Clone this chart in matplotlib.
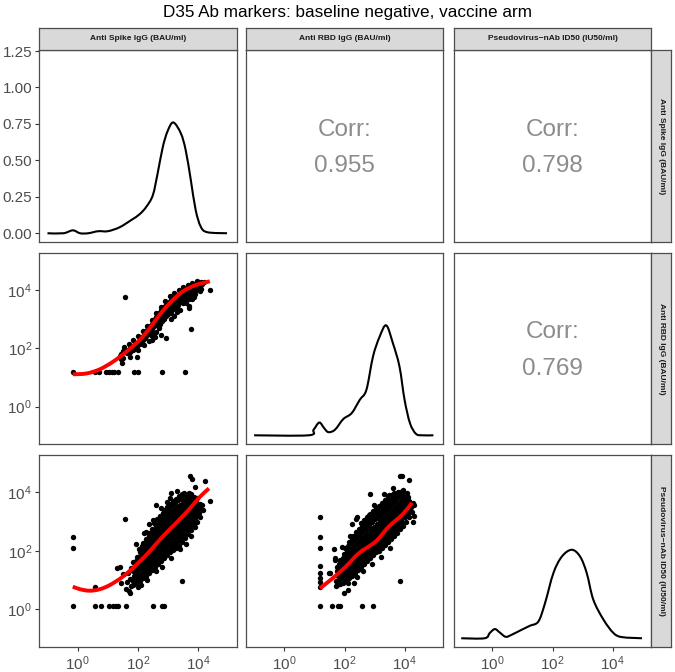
import matplotlib
matplotlib.use("Agg")
import matplotlib.pyplot as plt
from matplotlib.path import Path
from matplotlib.patches import PathPatch

plt.rcParams['font.family'] = ['Liberation Sans', 'DejaVu Sans']
plt.rcParams['mathtext.fontset'] = 'custom'
plt.rcParams['mathtext.rm'] = 'Liberation Sans'

title = "D35 Ab markers: baseline negative, vaccine arm"
markers = ["Anti Spike IgG (BAU/ml)", "Anti RBD IgG (BAU/ml)", "Pseudovirus\u2212nAb ID50 (IU50/ml)"]
# upper triangle correlations: (1,2), (1,3), (2,3)
corr_labels = {(0, 1): "0.955", (0, 2): "0.798", (1, 2): "0.769"}

# all values below are log10 of the assay readout
# --- diagonal densities ---
dens_spike_x = [-1.0, -0.47, -0.16, 0.08, 0.35, 0.68, 1.0, 1.39, 1.78, 2.05, 2.27, 2.49, 2.65,
                2.82, 2.98, 3.17, 3.42, 3.58, 3.75, 3.91, 4.08, 4.30, 4.95]
dens_spike_y = [0.0, 0.0, 0.02, 0.0, 0.0, 0.014, 0.014, 0.041, 0.091, 0.13, 0.18, 0.26, 0.41,
                0.59, 0.70, 0.76, 0.685, 0.57, 0.365, 0.16, 0.045, 0.007, 0.0]

dens_rbd_x = [-1.01, 0.80, 0.97, 1.16, 1.32, 1.46, 1.68, 1.96, 2.24, 2.51, 2.73, 2.95, 3.17,
              3.39, 3.61, 3.83, 4.0, 4.18, 4.38, 4.6, 4.96]
dens_rbd_y = [0.0, 0.0, 0.038, 0.088, 0.05, 0.022, 0.038, 0.112, 0.153, 0.245, 0.314, 0.544, 0.68,
              0.758, 0.636, 0.475, 0.245, 0.084, 0.01, 0.0, 0.0]

dens_nab_x = [-1.04, -0.26, -0.09, 0.08, 0.24, 0.44, 0.64, 0.97, 1.25, 1.53, 1.75, 2.03, 2.31,
              2.64, 2.92, 3.14, 3.36, 3.70, 4.03, 4.31, 4.98]
dens_nab_y = [0.0, 0.0, 0.036, 0.063, 0.04, 0.01, 0.024, 0.058, 0.086, 0.115, 0.24, 0.447, 0.56,
              0.607, 0.56, 0.447, 0.264, 0.127, 0.036, 0.008, 0.0]

# --- smooth (loess) curves ---
fit21_x = [-0.16, 0.30, 0.73, 1.17, 1.61, 2.05, 2.38, 2.71, 3.04, 3.47, 3.91, 4.38]
fit21_y = [1.11, 1.14, 1.28, 1.54, 1.88, 2.28, 2.68, 3.14, 3.54, 3.94, 4.17, 4.30]
fit31_x = [-0.16, 0.08, 0.40, 0.73, 1.06, 1.50, 1.94, 2.38, 2.82, 3.26, 3.69, 4.02, 4.35]
fit31_y = [0.78, 0.69, 0.64, 0.69, 0.83, 1.12, 1.52, 1.98, 2.49, 2.95, 3.41, 3.81, 4.13]
fit32_x = [1.18, 1.60, 2.04, 2.48, 3.04, 3.48, 3.92, 4.25]
fit32_y = [0.72, 1.06, 1.46, 1.92, 2.32, 2.83, 3.23, 3.64]

# --- scatter: Spike (x) vs RBD (y) ---
s21_x = [-0.16, 0.57, 0.70, 0.93, 1.03, 1.13, 1.22, 1.34, 1.88, 1.99, 2.79, 3.56,
         1.48, 1.50, 1.72, 1.96, 1.56, 3.75, 4.38, 1.40, 1.44,
         1.45, 1.50, 1.55, 1.60, 1.62, 1.68, 1.72, 1.75, 1.80, 1.83, 1.88, 1.90, 1.95, 1.98,
         2.02, 2.05, 2.08, 2.10, 2.14, 2.16, 2.20, 2.22, 2.25, 2.28, 2.30, 2.33, 2.36, 2.38,
         2.40, 2.42, 2.45, 2.47, 2.50, 2.52, 2.55, 2.57, 2.58, 2.60, 2.62, 2.65, 2.67, 2.68,
         2.70, 2.72, 2.74, 2.76, 2.78, 2.80, 2.82, 2.84, 2.86, 2.88, 2.90, 2.92, 2.95, 2.97,
         3.00, 3.02, 3.04, 3.06, 3.10, 3.12, 3.15, 3.18, 3.20, 3.23, 3.26, 3.28, 3.32, 3.35,
         3.38, 3.40, 3.44, 3.46, 3.50, 3.52, 3.55, 3.58, 3.62, 3.65, 3.68, 3.70, 3.72, 3.75,
         3.78, 3.82, 3.85, 3.88, 3.90, 3.93, 3.96, 4.00, 4.03, 4.06, 4.10, 4.13, 4.18,
         2.55, 2.76, 2.93, 3.10, 3.30, 3.58, 3.69, 3.80, 4.05, 3.20, 2.45, 2.20, 2.00, 2.35,
         1.55, 1.70, 1.85, 2.00, 2.15, 2.30, 2.45, 2.60, 2.75, 2.90, 3.05, 3.20, 3.35, 3.50,
         3.65, 3.80, 3.95, 3.10, 3.30, 3.50, 3.70, 3.90, 4.10, 2.70, 2.50, 3.40, 3.85]
s21_y = [1.18, 1.18, 1.18, 1.18, 1.18, 1.18, 1.18, 1.18, 1.18, 1.18, 1.18, 1.18,
         1.49, 1.66, 1.69, 1.69, 3.77, 2.65, 4.00, 1.75, 1.62,
         1.82, 1.90, 1.86, 1.95, 1.84, 1.92, 2.00, 1.88, 2.05, 1.96, 2.10, 2.00, 2.18, 2.08,
         2.25, 2.15, 2.32, 2.20, 2.40, 2.28, 2.48, 2.36, 2.55, 2.42, 2.62, 2.50, 2.70, 2.58,
         2.78, 2.45, 2.85, 2.65, 2.92, 2.75, 3.00, 2.82, 2.55, 3.08, 2.90, 3.15, 2.98, 2.70,
         3.22, 3.05, 2.85, 3.30, 3.12, 2.95, 3.38, 3.20, 3.02, 3.45, 3.28, 3.10, 3.52, 3.35,
         3.18, 3.58, 3.42, 3.25, 3.65, 3.50, 3.35, 3.72, 3.58, 3.42, 3.78, 3.65, 3.50, 3.85,
         3.72, 3.58, 3.90, 3.78, 3.65, 3.96, 3.85, 3.72, 4.02, 3.92, 3.80, 3.45, 4.08, 3.98,
         3.88, 4.14, 4.05, 3.95, 4.22, 4.12, 4.02, 4.26, 4.18, 4.10, 4.28, 4.22, 4.27,
         2.40, 2.46, 2.34, 3.00, 3.25, 3.54, 3.40, 3.70, 3.95, 3.10, 2.30, 2.10, 1.95, 2.25,
         2.05, 2.15, 2.28, 2.42, 2.58, 2.76, 2.98, 3.20, 3.42, 3.62, 3.78, 3.90, 4.00, 4.10,
         4.18, 4.24, 4.30, 3.20, 3.40, 3.55, 3.70, 3.85, 4.05, 2.75, 2.52, 3.30, 3.75]

# --- scatter: Spike (x) vs nAb (y) ---
s31_x = [-0.16, 0.57, 0.76, 1.04, 1.17, 1.26, 1.35, 1.61, 2.49, 2.78, 2.85,
         -0.16, -0.16, 0.59, 1.56, 1.72, 3.45, 3.72, 3.80, 4.21, 4.37, 3.89, 3.09,
         2.38, 2.60, 1.95, 2.20, 2.50, 3.30, 3.75, 3.90, 1.30, 1.40, 1.50, 1.45, 1.60,
         2.00, 2.10, 2.30, 2.60, 2.80, 3.10, 3.40, 3.60, 2.25, 2.75, 2.95, 3.05,
         1.62, 1.68, 1.70, 1.74, 1.78, 1.76,
         1.85, 1.83, 1.87, 1.84, 1.86, 1.82,
         1.95, 1.93, 1.97, 1.94, 1.96, 1.92, 1.96,
         2.05, 2.03, 2.07, 2.04, 2.06, 2.02, 2.06, 2.07, 2.03,
         2.15, 2.13, 2.17, 2.14, 2.16, 2.12, 2.16, 2.17, 2.13, 2.15,
         2.25, 2.23, 2.27, 2.24, 2.26, 2.22, 2.26, 2.27, 2.23, 2.25,
         2.35, 2.33, 2.37, 2.34, 2.36, 2.32, 2.36, 2.37, 2.33, 2.35, 2.38,
         2.45, 2.43, 2.47, 2.44, 2.46, 2.42, 2.46, 2.47, 2.43, 2.45, 2.48,
         2.55, 2.53, 2.57, 2.54, 2.56, 2.52, 2.56, 2.57, 2.53, 2.55, 2.58, 2.54,
         2.65, 2.63, 2.67, 2.64, 2.66, 2.62, 2.66, 2.67, 2.63, 2.65, 2.68, 2.64,
         2.75, 2.73, 2.77, 2.74, 2.76, 2.72, 2.76, 2.77, 2.73, 2.75, 2.78, 2.74,
         2.85, 2.83, 2.87, 2.84, 2.86, 2.82, 2.86, 2.87, 2.83, 2.85, 2.88, 2.84, 2.87,
         2.95, 2.93, 2.97, 2.94, 2.96, 2.92, 2.96, 2.97, 2.93, 2.95, 2.98, 2.94, 2.97,
         3.05, 3.03, 3.07, 3.04, 3.06, 3.02, 3.06, 3.07, 3.03, 3.05, 3.08, 3.04, 3.07,
         3.15, 3.13, 3.17, 3.14, 3.16, 3.12, 3.16, 3.17, 3.13, 3.15, 3.18, 3.14, 3.17,
         3.25, 3.23, 3.27, 3.24, 3.26, 3.22, 3.26, 3.27, 3.23, 3.25, 3.28, 3.24, 3.27,
         3.35, 3.33, 3.37, 3.34, 3.36, 3.32, 3.36, 3.37, 3.33, 3.35, 3.38, 3.34, 3.37,
         3.45, 3.43, 3.47, 3.44, 3.46, 3.42, 3.46, 3.47, 3.43, 3.45, 3.48, 3.44, 3.47,
         3.55, 3.53, 3.57, 3.54, 3.56, 3.52, 3.56, 3.57, 3.53, 3.55, 3.58, 3.54,
         3.65, 3.63, 3.67, 3.64, 3.66, 3.62, 3.66, 3.67, 3.63, 3.65, 3.68,
         3.75, 3.73, 3.77, 3.74, 3.76, 3.72, 3.76, 3.77, 3.73, 3.75,
         3.85, 3.83, 3.87, 3.84, 3.86, 3.82, 3.86, 3.87,
         3.95, 3.93, 3.97, 3.94, 3.96, 3.92, 3.96,
         4.05, 4.03, 4.07, 4.04,
         4.15, 4.13]
s31_y = [0.12, 0.12, 0.12, 0.12, 0.12, 0.12, 0.12, 0.12, 0.12, 0.12, 0.12,
         2.47, 2.09, 0.78, 3.09, 0.55, 0.97, 4.55, 4.45, 4.40, 3.69, 4.18, 3.98,
         2.93, 3.55, 2.24, 2.60, 3.05, 4.05, 2.50, 2.80, 1.40, 1.45, 1.20, 0.90, 0.70,
         0.75, 0.85, 1.00, 1.30, 1.45, 1.75, 2.05, 2.25, 2.65, 3.45, 3.65, 3.80,
         0.95, 1.25, 0.62, 1.05, 0.80, 1.40,
         0.82, 0.98, 1.14, 1.30, 1.46, 1.62,
         0.90, 1.05, 1.20, 1.35, 1.50, 1.65, 1.80,
         0.98, 1.12, 1.26, 1.40, 1.54, 1.68, 1.82, 1.96, 2.08,
         1.06, 1.20, 1.34, 1.48, 1.62, 1.76, 1.90, 2.04, 2.18, 2.28,
         1.15, 1.29, 1.43, 1.57, 1.71, 1.85, 1.99, 2.13, 2.27, 2.41,
         1.24, 1.38, 1.52, 1.66, 1.80, 1.94, 2.08, 2.22, 2.36, 2.50, 2.60,
         1.35, 1.49, 1.63, 1.77, 1.91, 2.05, 2.19, 2.33, 2.47, 2.61, 2.76,
         1.45, 1.59, 1.73, 1.87, 2.01, 2.15, 2.29, 2.43, 2.57, 2.71, 2.85, 2.95,
         1.55, 1.69, 1.83, 1.97, 2.11, 2.25, 2.39, 2.53, 2.67, 2.81, 2.95, 3.08,
         1.65, 1.79, 1.93, 2.07, 2.21, 2.35, 2.49, 2.63, 2.77, 2.91, 3.05, 3.20,
         1.75, 1.89, 2.03, 2.17, 2.31, 2.45, 2.59, 2.73, 2.87, 3.01, 3.15, 3.29, 3.38,
         1.85, 1.99, 2.13, 2.27, 2.41, 2.55, 2.69, 2.83, 2.97, 3.11, 3.25, 3.39, 3.50,
         1.95, 2.09, 2.23, 2.37, 2.51, 2.65, 2.79, 2.93, 3.07, 3.21, 3.35, 3.49, 3.60,
         2.02, 2.16, 2.30, 2.44, 2.58, 2.72, 2.86, 3.00, 3.14, 3.28, 3.42, 3.56, 3.70,
         2.10, 2.24, 2.38, 2.52, 2.66, 2.80, 2.94, 3.08, 3.22, 3.36, 3.50, 3.64, 3.78,
         2.18, 2.32, 2.46, 2.60, 2.74, 2.88, 3.02, 3.16, 3.30, 3.44, 3.58, 3.72, 3.86,
         2.30, 2.44, 2.58, 2.72, 2.86, 3.00, 3.14, 3.28, 3.42, 3.56, 3.70, 3.84, 3.93,
         2.45, 2.59, 2.73, 2.87, 3.01, 3.15, 3.29, 3.43, 3.57, 3.71, 3.85, 3.98,
         2.58, 2.72, 2.86, 3.00, 3.14, 3.28, 3.42, 3.56, 3.70, 3.84, 3.97,
         2.72, 2.86, 3.00, 3.14, 3.28, 3.42, 3.56, 3.70, 3.84, 3.95,
         2.88, 3.02, 3.16, 3.30, 3.44, 3.58, 3.72, 3.85,
         3.00, 3.14, 3.28, 3.42, 3.56, 3.70, 3.80,
         3.15, 3.30, 3.45, 3.60,
         3.38, 3.55]

# --- scatter: RBD (x) vs nAb (y) ---
s32_x = [1.18, 1.18, 1.18, 1.18, 1.18, 1.18, 1.18, 1.18, 1.18, 1.60, 1.78, 1.85, 2.57, 2.95,
         1.66, 1.51, 1.68, 1.93, 2.26, 2.43, 2.85, 2.98, 2.82, 3.48, 3.84, 3.86, 3.92, 4.16,
         2.13, 1.99, 2.32, 1.71, 1.49, 1.69, 2.37, 2.17, 3.60, 3.30, 4.30, 4.32, 4.28,
         2.60, 2.90, 3.20, 3.50, 2.40, 2.10,
         1.75, 1.73, 1.77, 1.74, 1.76,
         1.85, 1.83, 1.87, 1.84, 1.86, 1.82, 1.86,
         1.95, 1.93, 1.97, 1.94, 1.96, 1.92, 1.96, 1.97,
         2.05, 2.03, 2.07, 2.04, 2.06, 2.02, 2.06, 2.07, 2.03,
         2.15, 2.13, 2.17, 2.14, 2.16, 2.12, 2.16, 2.17, 2.13, 2.15,
         2.25, 2.23, 2.27, 2.24, 2.26, 2.22, 2.26, 2.27, 2.23, 2.25, 2.28,
         2.35, 2.33, 2.37, 2.34, 2.36, 2.32, 2.36, 2.37, 2.33, 2.35, 2.38,
         2.45, 2.43, 2.47, 2.44, 2.46, 2.42, 2.46, 2.47, 2.43, 2.45, 2.48,
         2.55, 2.53, 2.57, 2.54, 2.56, 2.52, 2.56, 2.57, 2.53, 2.55, 2.58, 2.54,
         2.65, 2.63, 2.67, 2.64, 2.66, 2.62, 2.66, 2.67, 2.63, 2.65, 2.68, 2.64,
         2.75, 2.73, 2.77, 2.74, 2.76, 2.72, 2.76, 2.77, 2.73, 2.75, 2.78, 2.74,
         2.85, 2.83, 2.87, 2.84, 2.86, 2.82, 2.86, 2.87, 2.83, 2.85, 2.88, 2.84,
         2.95, 2.93, 2.97, 2.94, 2.96, 2.92, 2.96, 2.97, 2.93, 2.95, 2.98, 2.94,
         3.05, 3.03, 3.07, 3.04, 3.06, 3.02, 3.06, 3.07, 3.03, 3.05, 3.08, 3.04,
         3.15, 3.13, 3.17, 3.14, 3.16, 3.12, 3.16, 3.17, 3.13, 3.15, 3.18, 3.14,
         3.25, 3.23, 3.27, 3.24, 3.26, 3.22, 3.26, 3.27, 3.23, 3.25, 3.28, 3.24,
         3.35, 3.33, 3.37, 3.34, 3.36, 3.32, 3.36, 3.37, 3.33, 3.35, 3.38, 3.34,
         3.45, 3.43, 3.47, 3.44, 3.46, 3.42, 3.46, 3.47, 3.43, 3.45, 3.48, 3.44,
         3.55, 3.53, 3.57, 3.54, 3.56, 3.52, 3.56, 3.57, 3.53, 3.55, 3.58, 3.54,
         3.65, 3.63, 3.67, 3.64, 3.66, 3.62, 3.66, 3.67, 3.63, 3.65, 3.68, 3.64,
         3.75, 3.73, 3.77, 3.74, 3.76, 3.72, 3.76, 3.77, 3.73, 3.75, 3.78,
         3.85, 3.83, 3.87, 3.84, 3.86, 3.82, 3.86, 3.87, 3.83, 3.85,
         3.95, 3.93, 3.97, 3.94, 3.96, 3.92, 3.96, 3.97, 3.93, 3.95,
         4.05, 4.03, 4.07, 4.04, 4.06, 4.02, 4.06, 4.07,
         4.15, 4.13, 4.17, 4.14, 4.16, 4.12,
         4.25, 4.23, 4.27]
s32_y = [3.16, 2.46, 2.09, 1.50, 1.23, 1.06, 0.95, 0.78, 0.12, 0.12, 0.12, 0.12, 0.12, 0.12,
         2.06, 1.23, 1.69, 2.13, 2.93, 3.15, 3.94, 3.58, 3.23, 3.90, 0.97, 4.55, 4.55, 4.41,
         0.68, 0.55, 0.89, 0.81, 1.26, 1.75, 3.09, 2.49, 4.15, 3.95, 3.55, 3.20, 3.00,
         1.30, 1.55, 1.80, 2.10, 1.10, 0.90,
         0.82, 0.98, 1.14, 1.30, 1.46,
         0.86, 1.00, 1.14, 1.28, 1.42, 1.56, 1.70,
         0.92, 1.06, 1.20, 1.34, 1.48, 1.62, 1.76, 1.90,
         1.00, 1.14, 1.28, 1.42, 1.56, 1.70, 1.84, 1.98, 2.10,
         1.06, 1.20, 1.34, 1.48, 1.62, 1.76, 1.90, 2.04, 2.18, 2.30,
         1.15, 1.29, 1.43, 1.57, 1.71, 1.85, 1.99, 2.13, 2.27, 2.41, 2.50,
         1.25, 1.39, 1.53, 1.67, 1.81, 1.95, 2.09, 2.23, 2.37, 2.51, 2.65,
         1.35, 1.49, 1.63, 1.77, 1.91, 2.05, 2.19, 2.33, 2.47, 2.61, 2.75,
         1.45, 1.59, 1.73, 1.87, 2.01, 2.15, 2.29, 2.43, 2.57, 2.71, 2.85, 2.95,
         1.55, 1.69, 1.83, 1.97, 2.11, 2.25, 2.39, 2.53, 2.67, 2.81, 2.95, 3.05,
         1.65, 1.79, 1.93, 2.07, 2.21, 2.35, 2.49, 2.63, 2.77, 2.91, 3.05, 3.15,
         1.75, 1.89, 2.03, 2.17, 2.31, 2.45, 2.59, 2.73, 2.87, 3.01, 3.15, 3.25,
         1.85, 1.99, 2.13, 2.27, 2.41, 2.55, 2.69, 2.83, 2.97, 3.11, 3.25, 3.35,
         1.95, 2.09, 2.23, 2.37, 2.51, 2.65, 2.79, 2.93, 3.07, 3.21, 3.35, 3.45,
         2.00, 2.14, 2.28, 2.42, 2.56, 2.70, 2.84, 2.98, 3.12, 3.26, 3.40, 3.54,
         2.10, 2.24, 2.38, 2.52, 2.66, 2.80, 2.94, 3.08, 3.22, 3.36, 3.50, 3.64,
         2.20, 2.34, 2.48, 2.62, 2.76, 2.90, 3.04, 3.18, 3.32, 3.46, 3.60, 3.74,
         2.30, 2.44, 2.58, 2.72, 2.86, 3.00, 3.14, 3.28, 3.42, 3.56, 3.70, 3.84,
         2.40, 2.54, 2.68, 2.82, 2.96, 3.10, 3.24, 3.38, 3.52, 3.66, 3.80, 3.90,
         2.50, 2.64, 2.78, 2.92, 3.06, 3.20, 3.34, 3.48, 3.62, 3.76, 3.90, 3.98,
         2.62, 2.76, 2.90, 3.04, 3.18, 3.32, 3.46, 3.60, 3.74, 3.88, 4.00,
         2.75, 2.89, 3.03, 3.17, 3.31, 3.45, 3.59, 3.73, 3.87, 4.02,
         2.86, 3.00, 3.14, 3.28, 3.42, 3.56, 3.70, 3.84, 3.98, 4.06,
         3.00, 3.14, 3.28, 3.42, 3.56, 3.70, 3.84, 3.98,
         3.15, 3.29, 3.43, 3.57, 3.71, 3.85,
         3.32, 3.48, 3.64]

log_ticks = [0, 2, 4]
log_labels = [r"$\mathregular{10^{0}}$", r"$\mathregular{10^{2}}$", r"$\mathregular{10^{4}}$"]
dens_ticks = [0, 0.25, 0.5, 0.75, 1.0, 1.25]
dens_labels = ["0.00", "0.25", "0.50", "0.75", "1.00", "1.25"]

W, H = 675.0, 672.0
cols = [(39, 237), (246, 443), (454, 651)]
rows = [(50, 242), (253, 444), (455, 647)]
border = "#4D4D4D"


def box(x0, y0, x1, y1):
    return [x0 / W, 1 - y1 / H, (x1 - x0) / W, (y1 - y0) / H]


def smooth_line(ax, xs, ys, **kw):
    # draw the read points joined by a Catmull-Rom curve (rendered as cubic Beziers)
    pts = list(zip(xs, ys))
    verts = [pts[0]]
    codes = [Path.MOVETO]
    n = len(pts)
    for k in range(n - 1):
        p0 = pts[max(k - 1, 0)]
        p1 = pts[k]
        p2 = pts[k + 1]
        p3 = pts[min(k + 2, n - 1)]
        c1 = (p1[0] + (p2[0] - p0[0]) / 6, p1[1] + (p2[1] - p0[1]) / 6)
        c2 = (p2[0] - (p3[0] - p1[0]) / 6, p2[1] - (p3[1] - p1[1]) / 6)
        verts += [c1, c2, p2]
        codes += [Path.CURVE4] * 3
    ax.add_patch(PathPatch(Path(verts, codes), fill=False, capstyle="butt", **kw))


fig = plt.figure(figsize=(6.75, 6.72), dpi=100)
fig.text(347 / W, 1 - 13 / H, title, ha="center", va="center", fontsize=12.3, color="black")

diag = {0: (dens_spike_x, dens_spike_y), 1: (dens_rbd_x, dens_rbd_y), 2: (dens_nab_x, dens_nab_y)}
scat = {(1, 0): (s21_x, s21_y, fit21_x, fit21_y),
        (2, 0): (s31_x, s31_y, fit31_x, fit31_y),
        (2, 1): (s32_x, s32_y, fit32_x, fit32_y)}

for i, (ry0, ry1) in enumerate(rows):
    for j, (cx0, cx1) in enumerate(cols):
        ax = fig.add_axes(box(cx0, ry0, cx1, ry1))
        ax.set_xlim(-1.28, 5.28)
        for sp in ax.spines.values():
            sp.set_color(border)
            sp.set_linewidth(0.9)
        ax.tick_params(length=3, width=0.8, color="#333333", labelcolor="#4D4D4D",
                       labelsize=11, pad=2)
        if i == j:
            dx, dy = diag[i]
            smooth_line(ax, dx, dy, edgecolor="black", lw=1.5)
            ax.set_ylim(-0.06, 1.257)
            ax.set_yticks(dens_ticks)
            ax.set_yticklabels(dens_labels)
        elif i > j:
            sx, sy, fx, fy = scat[(i, j)]
            ax.scatter(sx, sy, s=15, c="black", linewidths=0, zorder=2)
            smooth_line(ax, fx, fy, edgecolor="red", lw=2.8, zorder=3)
            ax.set_ylim(-1.28, 5.27)
            ax.set_yticks(log_ticks)
            ax.set_yticklabels(log_labels)
        else:
            ax.set_ylim(0, 1)
            ax.text(0.5, 0.585, "Corr:", transform=ax.transAxes, ha="center", va="center",
                    fontsize=17.5, color="#8C8C8C")
            ax.text(0.5, 0.395, corr_labels[(i, j)], transform=ax.transAxes, ha="center",
                    va="center", fontsize=17.5, color="#8C8C8C")
        ax.set_xticks(log_ticks)
        ax.set_xticklabels(log_labels)
        if i != 2:
            ax.tick_params(axis="x", bottom=False, labelbottom=False)
        if j != 0:
            ax.tick_params(axis="y", left=False, labelleft=False)

# top strips
for j, (cx0, cx1) in enumerate(cols):
    st = fig.add_axes(box(cx0, 28, cx1, 50))
    st.set_facecolor("#D9D9D9")
    st.set_xticks([])
    st.set_yticks([])
    for sp in st.spines.values():
        sp.set_color(border)
        sp.set_linewidth(0.9)
    st.text(0.5, 0.5, markers[j], transform=st.transAxes, ha="center", va="center",
            fontsize=6, fontweight="bold", color="#1A1A1A")

# right strips
for i, (ry0, ry1) in enumerate(rows):
    st = fig.add_axes(box(651, ry0, 671, ry1))
    st.set_facecolor("#D9D9D9")
    st.set_xticks([])
    st.set_yticks([])
    for sp in st.spines.values():
        sp.set_color(border)
        sp.set_linewidth(0.9)
    st.text(0.5, 0.5, markers[i], transform=st.transAxes, ha="center", va="center",
            rotation=-90, fontsize=6, fontweight="bold", color="#1A1A1A")

fig.savefig("out.png", dpi=100)
